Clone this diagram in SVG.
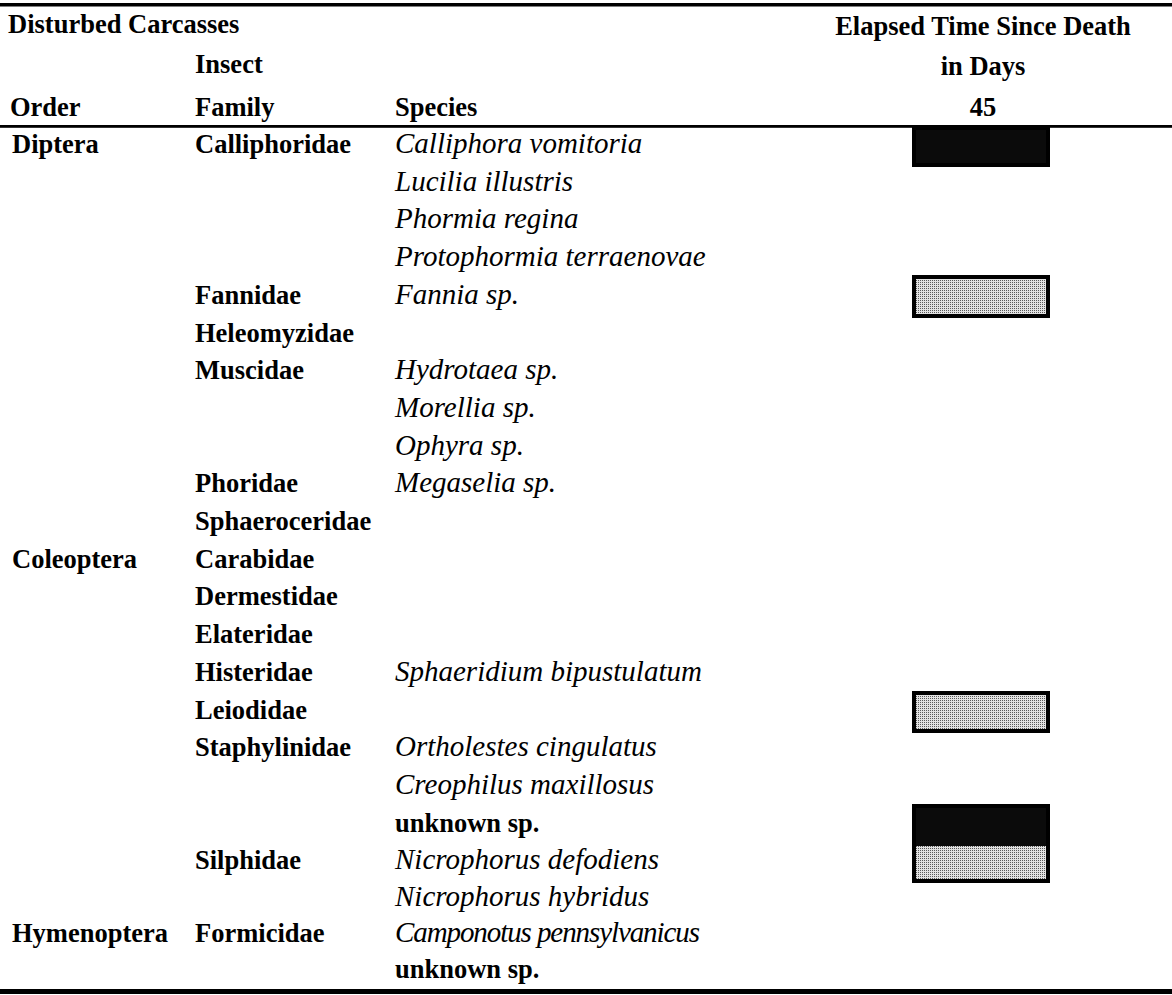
<svg xmlns="http://www.w3.org/2000/svg" width="1172" height="995" viewBox="0 0 1172 995">
<defs>
<pattern id="stip" width="2" height="2" patternUnits="userSpaceOnUse">
<rect width="2" height="2" fill="#e2e2e2"/>
<rect width="1" height="1" fill="#5a5a5a"/>
</pattern>
</defs>
<style>
text{font-family:"Liberation Serif","Times New Roman",serif;fill:#000}
.b{font-weight:bold;font-size:26.5px}
.i{font-style:italic;font-size:29px}
.h{font-weight:bold;font-size:26.5px}
.m{text-anchor:middle}
.rule{fill:#000}
.bar{stroke:#000;stroke-width:4}
.dark{fill:#0b0b0b}
.gray{fill:url(#stip)}
</style>
<rect width="1172" height="995" fill="#fff"/>
<g id="rules">
<rect class="rule" x="0" y="3" width="1172" height="3.5"/>
<rect class="rule" x="0" y="125" width="1172" height="2.8"/>
<rect class="rule" x="0" y="989" width="1172" height="5"/>
</g>
<g id="header">
<text class="h" x="8" y="33">Disturbed Carcasses</text>
<text class="h" x="195" y="73">Insect</text>
<text class="h" x="10" y="116">Order</text>
<text class="h" x="195" y="116">Family</text>
<text class="h" x="395" y="116">Species</text>
<text class="h m" x="983" y="35">Elapsed Time Since Death</text>
<text class="h m" x="983" y="75">in Days</text>
<text class="h m" x="983" y="116">45</text>
</g>
<g id="orders">
<text class="b" x="12" y="153">Diptera</text>
<text class="b" x="12" y="567.7">Coleoptera</text>
<text class="b" x="12" y="942">Hymenoptera</text>
</g>
<g id="families">
<text class="b" x="195" y="153">Calliphoridae</text>
<text class="b" x="195" y="303.8">Fannidae</text>
<text class="b" x="195" y="341.5">Heleomyzidae</text>
<text class="b" x="195" y="379.2">Muscidae</text>
<text class="b" x="195" y="492.3">Phoridae</text>
<text class="b" x="195" y="530">Sphaeroceridae</text>
<text class="b" x="195" y="567.7">Carabidae</text>
<text class="b" x="195" y="605.4">Dermestidae</text>
<text class="b" x="195" y="643.1">Elateridae</text>
<text class="b" x="195" y="680.8">Histeridae</text>
<text class="b" x="195" y="718.5">Leiodidae</text>
<text class="b" x="195" y="756.2">Staphylinidae</text>
<text class="b" x="195" y="869.3">Silphidae</text>
<text class="b" x="195" y="942">Formicidae</text>
</g>
<g id="species">
<text class="i" x="395" y="153">Calliphora vomitoria</text>
<text class="i" x="395" y="190.7">Lucilia illustris</text>
<text class="i" x="395" y="228.4">Phormia regina</text>
<text class="i" x="395" y="266.1">Protophormia terraenovae</text>
<text class="i" x="395" y="303.8">Fannia sp.</text>
<text class="i" x="395" y="379.2">Hydrotaea sp.</text>
<text class="i" x="395" y="416.9">Morellia sp.</text>
<text class="i" x="395" y="454.6">Ophyra sp.</text>
<text class="i" x="395" y="492.3">Megaselia sp.</text>
<text class="i" x="395" y="680.8">Sphaeridium bipustulatum</text>
<text class="i" x="395" y="756.2">Ortholestes cingulatus</text>
<text class="i" x="395" y="793.9">Creophilus maxillosus</text>
<text class="b" x="395" y="831.6">unknown sp.</text>
<text class="i" x="395" y="869.3">Nicrophorus defodiens</text>
<text class="i" x="395" y="906">Nicrophorus hybridus</text>
<text class="i" x="395" y="942" textLength="305" lengthAdjust="spacing">Camponotus pennsylvanicus</text>
<text class="b" x="395" y="978">unknown sp.</text>
</g>
<g id="bars">
<rect class="bar dark" x="914" y="128" width="134" height="37"/>
<rect class="bar gray" x="914" y="277" width="134" height="39"/>
<rect class="bar gray" x="914" y="693" width="134" height="38"/>
<rect class="dark" x="914" y="806" width="134" height="40"/>
<rect class="gray" x="914" y="846" width="134" height="35"/>
<rect class="bar" fill="none" x="914" y="806" width="134" height="75"/>
</g>
<g id="connectors"/>
</svg>
